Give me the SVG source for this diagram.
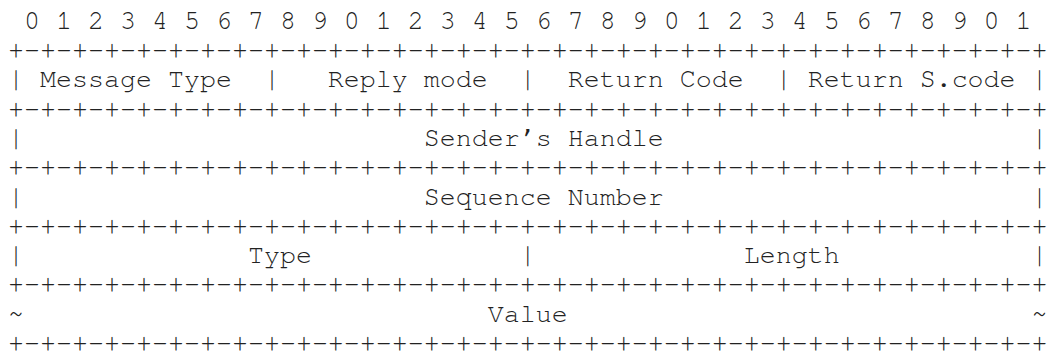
<svg xmlns="http://www.w3.org/2000/svg" width="1050" height="352" viewBox="0 0 1050 352">
<style>
  text { font-family: "Nimbus Mono PS", "Nimbus Mono L", "FreeMono", "Courier New", "Liberation Mono", monospace; font-size: 26.667px; fill: #222; white-space: pre; }
</style>
<rect width="1050" height="352" fill="#fff"/>
<g id="bit-ruler">
  <text x="8" y="28.7" xml:space="preserve"> 0 1 2 3 4 5 6 7 8 9 0 1 2 3 4 5 6 7 8 9 0 1 2 3 4 5 6 7 8 9 0 1</text>
</g>
<g id="connectors">
  <text x="8" y="58" xml:space="preserve">+-+-+-+-+-+-+-+-+-+-+-+-+-+-+-+-+-+-+-+-+-+-+-+-+-+-+-+-+-+-+-+-+</text>
  <text x="8" y="116.6" xml:space="preserve">+-+-+-+-+-+-+-+-+-+-+-+-+-+-+-+-+-+-+-+-+-+-+-+-+-+-+-+-+-+-+-+-+</text>
  <text x="8" y="175.2" xml:space="preserve">+-+-+-+-+-+-+-+-+-+-+-+-+-+-+-+-+-+-+-+-+-+-+-+-+-+-+-+-+-+-+-+-+</text>
  <text x="8" y="233.8" xml:space="preserve">+-+-+-+-+-+-+-+-+-+-+-+-+-+-+-+-+-+-+-+-+-+-+-+-+-+-+-+-+-+-+-+-+</text>
  <text x="8" y="292.4" xml:space="preserve">+-+-+-+-+-+-+-+-+-+-+-+-+-+-+-+-+-+-+-+-+-+-+-+-+-+-+-+-+-+-+-+-+</text>
  <text x="8" y="350.5" xml:space="preserve">+-+-+-+-+-+-+-+-+-+-+-+-+-+-+-+-+-+-+-+-+-+-+-+-+-+-+-+-+-+-+-+-+</text>
</g>
<g id="row-header">
  <text x="8" y="87.3" xml:space="preserve">| Message Type  |   Reply mode  |  Return Code  | Return S.code |</text>
</g>
<g id="row-sender-handle">
  <text x="8" y="145.9" xml:space="preserve">|                         Sender’s Handle                       |</text>
</g>
<g id="row-sequence-number">
  <text x="8" y="204.5" xml:space="preserve">|                         Sequence Number                       |</text>
</g>
<g id="row-type-length">
  <text x="8" y="263.1" xml:space="preserve">|              Type             |             Length            |</text>
</g>
<g id="row-value">
  <text x="8" y="321.7" xml:space="preserve">~                             Value                             ~</text>
</g>
</svg>
